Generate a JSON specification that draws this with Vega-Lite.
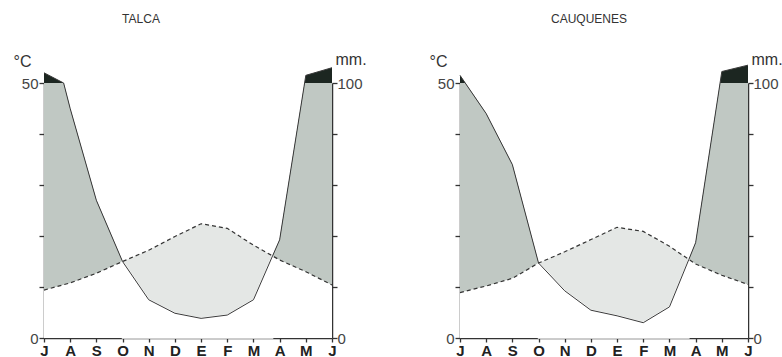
{
  "$schema": "https://vega.github.io/schema/vega-lite/v6.json",
  "background": "white",
  "padding": {"left": 13, "top": 13, "right": 0, "bottom": 0},
  "autosize": {"type": "pad"},
  "bounds": "flush",
  "spacing": 128,
  "config": {
    "view": {"stroke": null},
    "font": "Liberation Sans",
    "axis": {
      "grid": false,
      "domainColor": "#333",
      "domainWidth": 1.5,
      "tickColor": "#333",
      "tickWidth": 1.3,
      "labelColor": "#444",
      "labelFont": "Liberation Sans",
      "labelFontSize": 15,
      "labelFlush": false,
      "labelOverlap": false,
      "titleFont": "Liberation Sans",
      "titleFontSize": 16,
      "titleFontWeight": "normal",
      "titleColor": "#333"
    },
    "title": {"font": "Liberation Sans", "fontSize": 12, "fontWeight": "normal", "color": "#333"}
  },
  "datasets": {
    "talca": [
      {"m": 0, "t": 9.4, "p": 104},
      {"m": 0.75, "p": 100},
      {"m": 1, "t": 10.8, "p": 90},
      {"m": 2, "t": 12.7, "p": 54},
      {"m": 3, "t": 15.0, "p": 30},
      {"m": 4, "t": 17.2, "p": 15},
      {"m": 5, "t": 19.9, "p": 9.7},
      {"m": 6, "t": 22.4, "p": 7.7},
      {"m": 7, "t": 21.5, "p": 9},
      {"m": 8, "t": 18.2, "p": 15},
      {"m": 8.73, "t": 16.1, "p": 32.2},
      {"m": 9, "t": 15.3, "p": 38.5},
      {"m": 10, "t": 13.0, "p": 103},
      {"m": 11, "t": 10.4, "p": 106}
    ],
    "cauquenes": [
      {"m": 0, "t": 8.9, "p": 103},
      {"m": 1, "t": 10.2, "p": 88},
      {"m": 2, "t": 11.7, "p": 68},
      {"m": 3, "t": 14.7, "p": 29.4},
      {"m": 4, "t": 16.9, "p": 18.5},
      {"m": 5, "t": 19.3, "p": 10.9},
      {"m": 6, "t": 21.7, "p": 8.7},
      {"m": 7, "t": 20.9, "p": 6},
      {"m": 8, "t": 18.0, "p": 12.2},
      {"m": 8.74, "t": 15.4, "p": 30.8},
      {"m": 9, "t": 14.5, "p": 37.4},
      {"m": 10, "t": 12.3, "p": 104.5},
      {"m": 11, "t": 10.5, "p": 107}
    ]
  },
  "hconcat": [
    {
      "title": {"text": "TALCA", "anchor": "middle", "frame": "group", "dx": -47, "offset": 25},
      "width": 288,
      "height": 255,
      "data": {"name": "talca"},
      "encoding": {
        "x": {
          "field": "m", "type": "quantitative",
          "scale": {"domain": [0, 11], "nice": false, "zero": false},
          "axis": {
            "title": null, "values": [0, 1, 2, 3, 4, 5, 6, 7, 8, 9, 10, 11],
            "labelExpr": "['J','A','S','O','N','D','E','F','M','A','M','J'][datum.value]",
            "labelFontWeight": "bold", "labelColor": "#222", "labelFontSize": 15,
            "tickSize": 4, "labelPadding": 1
          }
        }
      },
      "resolve": {"scale": {"y": "independent"}, "axis": {"y": "independent"}},
      "layer": [
        {
          "transform": [{"filter": "isValid(datum.p)"}],
          "mark": {"type": "area", "color": "#1c2621"},
          "encoding": {"y": {"field": "p", "type": "quantitative", "scale": {"domain": [0, 100], "nice": false}, "axis": null}}
        },
        {
          "transform": [{"filter": "isValid(datum.p)"}],
          "mark": {"type": "area", "color": "#c0c8c3", "clip": true},
          "encoding": {"y": {"field": "p", "type": "quantitative", "scale": {"domain": [0, 100], "nice": false}, "axis": null}}
        },
        {
          "transform": [{"filter": "isValid(datum.t)"}],
          "mark": {"type": "area", "color": "white"},
          "encoding": {"y": {"field": "t", "type": "quantitative", "scale": {"domain": [0, 50], "nice": false}, "axis": null}}
        },
        {
          "transform": [{"filter": "isValid(datum.t)"}, {"filter": {"field": "m", "range": [3, 8.73]}}],
          "mark": {"type": "area", "color": "#e4e7e5"},
          "encoding": {"y": {"field": "t", "type": "quantitative", "scale": {"domain": [0, 50], "nice": false}, "axis": null}}
        },
        {
          "transform": [{"filter": "isValid(datum.p)"}, {"filter": {"field": "m", "range": [3, 8.73]}}],
          "mark": {"type": "area", "color": "white", "stroke": "white", "strokeWidth": 1.5},
          "encoding": {"y": {"field": "p", "type": "quantitative", "scale": {"domain": [0, 100], "nice": false}, "axis": null}}
        },
        {
          "transform": [{"filter": "isValid(datum.t)"}],
          "mark": {"type": "line", "color": "#333", "strokeWidth": 1.2, "strokeDash": [4, 3]},
          "encoding": {
            "y": {
              "field": "t", "type": "quantitative", "scale": {"domain": [0, 50], "nice": false},
              "axis": {
                "orient": "left", "values": [0, 10, 20, 30, 40, 50],
                "labelExpr": "datum.value == 0 || datum.value == 50 ? datum.label : ''",
                "tickSize": 5, "labelPadding": 1,
                "title": "°C", "titleAngle": 0, "titleAlign": "center", "titleBaseline": "alphabetic",
                "titleX": -22, "titleY": -17
              }
            }
          }
        },
        {
          "transform": [{"filter": "isValid(datum.p)"}],
          "mark": {"type": "line", "color": "#3a3a3a", "strokeWidth": 1},
          "encoding": {
            "y": {
              "field": "p", "type": "quantitative", "scale": {"domain": [0, 100], "nice": false},
              "axis": {
                "orient": "right", "values": [0, 20, 40, 60, 80, 100],
                "labelExpr": "datum.value == 0 || datum.value == 100 ? datum.label : ''",
                "tickSize": 5, "labelPadding": 0,
                "title": "mm.", "titleAngle": 0, "titleAlign": "left", "titleBaseline": "alphabetic",
                "titleX": 3, "titleY": -19
              }
            }
          }
        }
      ]
    },
    {
      "title": {"text": "CAUQUENES", "anchor": "middle", "frame": "group", "dx": -15, "offset": 25},
      "width": 288,
      "height": 255,
      "data": {"name": "cauquenes"},
      "encoding": {
        "x": {
          "field": "m", "type": "quantitative",
          "scale": {"domain": [0, 11], "nice": false, "zero": false},
          "axis": {
            "title": null, "values": [0, 1, 2, 3, 4, 5, 6, 7, 8, 9, 10, 11],
            "labelExpr": "['J','A','S','O','N','D','E','F','M','A','M','J'][datum.value]",
            "labelFontWeight": "bold", "labelColor": "#222", "labelFontSize": 15,
            "tickSize": 4, "labelPadding": 1
          }
        }
      },
      "resolve": {"scale": {"y": "independent"}, "axis": {"y": "independent"}},
      "layer": [
        {
          "transform": [{"filter": "isValid(datum.p)"}],
          "mark": {"type": "area", "color": "#1c2621"},
          "encoding": {"y": {"field": "p", "type": "quantitative", "scale": {"domain": [0, 100], "nice": false}, "axis": null}}
        },
        {
          "transform": [{"filter": "isValid(datum.p)"}],
          "mark": {"type": "area", "color": "#c0c8c3", "clip": true},
          "encoding": {"y": {"field": "p", "type": "quantitative", "scale": {"domain": [0, 100], "nice": false}, "axis": null}}
        },
        {
          "transform": [{"filter": "isValid(datum.t)"}],
          "mark": {"type": "area", "color": "white"},
          "encoding": {"y": {"field": "t", "type": "quantitative", "scale": {"domain": [0, 50], "nice": false}, "axis": null}}
        },
        {
          "transform": [{"filter": "isValid(datum.t)"}, {"filter": {"field": "m", "range": [3, 8.74]}}],
          "mark": {"type": "area", "color": "#e4e7e5"},
          "encoding": {"y": {"field": "t", "type": "quantitative", "scale": {"domain": [0, 50], "nice": false}, "axis": null}}
        },
        {
          "transform": [{"filter": "isValid(datum.p)"}, {"filter": {"field": "m", "range": [3, 8.74]}}],
          "mark": {"type": "area", "color": "white", "stroke": "white", "strokeWidth": 1.5},
          "encoding": {"y": {"field": "p", "type": "quantitative", "scale": {"domain": [0, 100], "nice": false}, "axis": null}}
        },
        {
          "transform": [{"filter": "isValid(datum.t)"}],
          "mark": {"type": "line", "color": "#333", "strokeWidth": 1.2, "strokeDash": [4, 3]},
          "encoding": {
            "y": {
              "field": "t", "type": "quantitative", "scale": {"domain": [0, 50], "nice": false},
              "axis": {
                "orient": "left", "values": [0, 10, 20, 30, 40, 50],
                "labelExpr": "datum.value == 0 || datum.value == 50 ? datum.label : ''",
                "tickSize": 5, "labelPadding": 1,
                "title": "°C", "titleAngle": 0, "titleAlign": "center", "titleBaseline": "alphabetic",
                "titleX": -22, "titleY": -17
              }
            }
          }
        },
        {
          "transform": [{"filter": "isValid(datum.p)"}],
          "mark": {"type": "line", "color": "#3a3a3a", "strokeWidth": 1},
          "encoding": {
            "y": {
              "field": "p", "type": "quantitative", "scale": {"domain": [0, 100], "nice": false},
              "axis": {
                "orient": "right", "values": [0, 20, 40, 60, 80, 100],
                "labelExpr": "datum.value == 0 || datum.value == 100 ? datum.label : ''",
                "tickSize": 5, "labelPadding": 0,
                "title": "mm.", "titleAngle": 0, "titleAlign": "left", "titleBaseline": "alphabetic",
                "titleX": 3, "titleY": -19
              }
            }
          }
        }
      ]
    }
  ]
}
